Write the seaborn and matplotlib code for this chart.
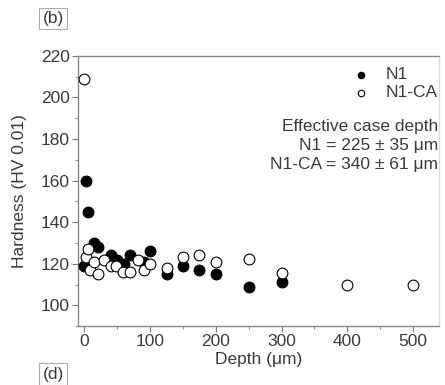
import numpy as np
import pandas as pd
import matplotlib.pyplot as plt
import matplotlib.ticker as mticker
import seaborn as sns

# hardness profiles
N1_DEPTH = [0, 3, 5, 15, 20, 40, 50, 60, 70, 90, 100, 125, 150, 175, 200, 250, 300]
N1_HV = [119, 160, 145, 130, 128, 124, 122, 120, 124, 121, 126, 115, 119, 117, 115, 109, 111]

CA_DEPTH = [0, 2, 5, 9, 15, 20, 30, 40, 48, 58, 70, 81, 90, 100, 125, 150, 175, 200, 250, 300, 400, 500]
CA_HV = [209, 123, 127, 117, 121, 115, 122, 119, 119, 116, 116, 122, 117, 120, 118, 123, 124, 121, 122.5, 115.5, 110, 110]

SAMPLES = ["N1", "N1-CA"]
CASE_TEXT = ["Effective case depth", "N1 = 225 ± 35 μm", "N1-CA = 340 ± 61 μm"]

df = pd.concat([
    pd.DataFrame({"depth": N1_DEPTH, "hv": N1_HV, "sample": SAMPLES[0]}),
    pd.DataFrame({"depth": CA_DEPTH, "hv": CA_HV, "sample": SAMPLES[1]}),
])

FS = 12.5
TXT = "#3a3a3a"

sns.set_style("white")
plt.rcParams["font.family"] = ["Liberation Sans", "DejaVu Sans"]
plt.rcParams["font.size"] = FS

fig = plt.figure(figsize=(4.45, 3.85), dpi=100)
ax = fig.add_axes([0.175, 0.153, 0.812, 0.702])

sns.scatterplot(data=df[df["sample"] == "N1"], x="depth", y="hv", ax=ax,
                color="black", edgecolor="black", s=60, linewidth=0.8,
                label="N1", zorder=3)
sns.scatterplot(data=df[df["sample"] == "N1-CA"], x="depth", y="hv", ax=ax,
                facecolor="white", edgecolor="black", s=60, linewidth=0.8,
                label="N1-CA", zorder=3)

ax.set_xlim(-10, 540)
ax.set_ylim(90, 220)
ax.xaxis.set_major_locator(mticker.MultipleLocator(100))
ax.xaxis.set_minor_locator(mticker.MultipleLocator(50))
ax.yaxis.set_major_locator(mticker.MultipleLocator(20))
ax.yaxis.set_minor_locator(mticker.MultipleLocator(10))
ax.tick_params(which="both", direction="out", bottom=True, left=True,
               color="#777777", labelcolor=TXT)
ax.tick_params(which="major", length=4, labelsize=FS, pad=2)
ax.tick_params(which="minor", length=2.5)
for sp in ax.spines.values():
    sp.set_color("#888888")
    sp.set_linewidth(1.0)
ax.spines["right"].set_color("#dddddd")

ax.set_xlabel("Depth (μm)", color=TXT, fontsize=FS, labelpad=2)
ax.set_ylabel("Hardness (HV 0.01)", color=TXT, fontsize=FS, labelpad=10)

leg = ax.legend(loc="upper right", frameon=False, markerscale=0.6,
                handletextpad=0.4, borderaxespad=0.1, labelspacing=0.15,
                fontsize=FS, bbox_to_anchor=(1.02, 0.99))
for t in leg.get_texts():
    t.set_color(TXT)

ax.text(0.997, 0.765, "\n".join(CASE_TEXT), transform=ax.transAxes,
        ha="right", va="top", fontsize=FS, color=TXT, linespacing=1.33)

fig.text(0.12, 0.952, "(b)", ha="center", va="center", fontsize=FS, color=TXT,
         bbox=dict(boxstyle="square,pad=0.2", fc="white", ec="#aaaaaa", lw=0.8))
fig.text(0.12, 0.028, "(d)", ha="center", va="center", fontsize=FS, color=TXT,
         bbox=dict(boxstyle="square,pad=0.2", fc="white", ec="#aaaaaa", lw=0.8))

fig.savefig("out.png", dpi=100)
